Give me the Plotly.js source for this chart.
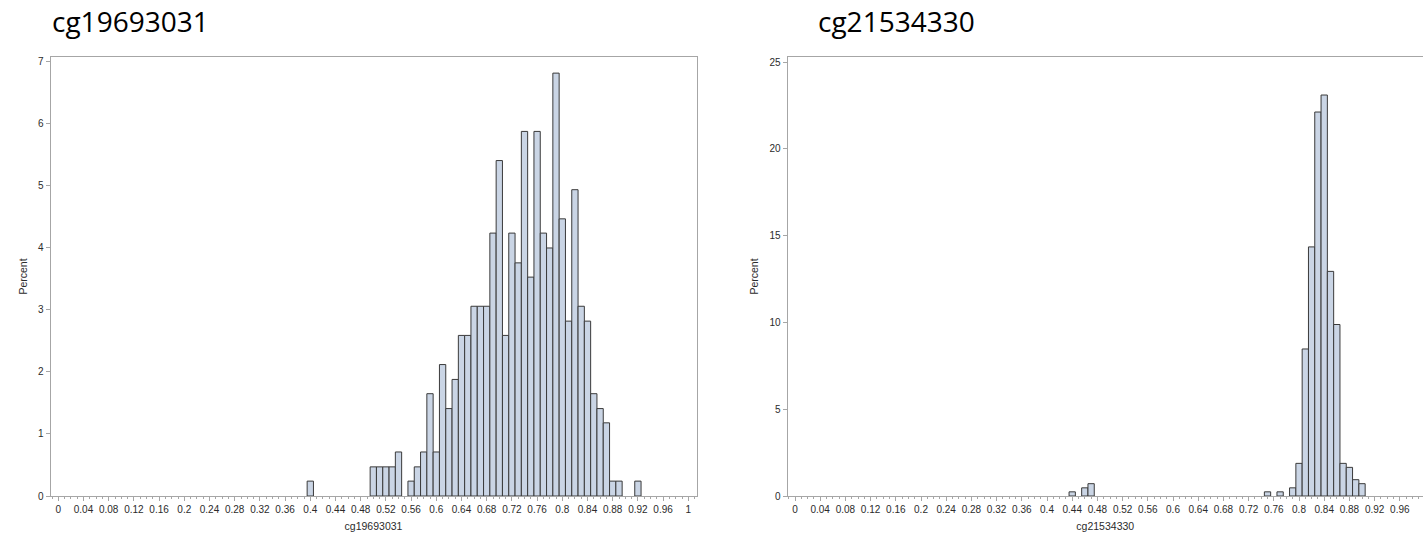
<!DOCTYPE html>
<html><head><meta charset="utf-8">
<script src="https://cdn.plot.ly/plotly-3.0.1.min.js"></script>
<style>html,body{margin:0;padding:0;background:#fff}#chart{width:1423px;height:540px}</style>
</head><body><div id="chart"></div><script>
// Left histogram: cg19693031 (bin centres, percent)
const binsA = [0.40,0.50,0.51,0.52,0.53,0.54,0.56,0.57,0.58,0.59,0.60,0.61,0.62,0.63,0.64,0.65,0.66,0.67,0.68,0.69,0.70,0.71,0.72,0.73,0.74,0.75,0.76,0.77,0.78,0.79,0.80,0.81,0.82,0.83,0.84,0.85,0.86,0.87,0.88,0.89,0.92];
const pctA  = [0.24,0.47,0.47,0.47,0.47,0.71,0.24,0.47,0.71,1.65,0.71,2.12,1.41,1.88,2.59,2.59,3.06,3.06,3.06,4.24,5.41,2.59,4.24,3.76,5.88,3.53,5.88,4.24,4.00,6.82,4.47,2.82,4.94,3.06,2.82,1.65,1.41,1.18,0.24,0.24,0.24];
// Right histogram: cg21534330
const binsB = [0.44,0.46,0.47,0.75,0.77,0.79,0.80,0.81,0.82,0.83,0.84,0.85,0.86,0.87,0.88,0.89,0.90];
const pctB  = [0.24,0.47,0.71,0.24,0.24,0.47,1.88,8.47,14.35,22.12,23.10,12.94,9.88,1.88,1.65,0.94,0.71];
const nameA = 'cg19693031';
const nameB = 'cg21534330';
const yLabel = 'Percent';
const binWidth = 0.01;

const W = 1423, H = 540;
const fill = '#cad5e5', edge = '#3a3a3a', frame = '#a6a6a6';
const tickFont = {family:'Liberation Sans, Arial, sans-serif', size:10, color:'#2b2b2b'};
const axTitleFont = {family:'Liberation Sans, Arial, sans-serif', size:10.5, color:'#2b2b2b'};

function bar(x, y, xa, ya){
  return {type:'bar', x:x, y:y, width:x.map(()=>binWidth), xaxis:xa, yaxis:ya,
    marker:{color:fill, line:{color:edge, width:1}}, hoverinfo:'x+y', showlegend:false};
}
function xax(dom, rng, title, mirror){
  return {domain:dom, range:rng, tick0:0, dtick:0.04, ticks:'outside', ticklen:4, tickcolor:frame,
    tickfont:tickFont, showgrid:false, zeroline:false, showline:true, linecolor:frame, linewidth:1,
    mirror:mirror, minor:{dtick:0.01, ticks:'outside', ticklen:2, tickcolor:frame, showgrid:false},
    title:{text:title, font:axTitleFont, standoff:8}, fixedrange:true};
}
function yax(dom, rng, dt, anchor, mirror){
  return {domain:dom, range:rng, dtick:dt, tick0:0, ticks:'outside', ticklen:4, tickcolor:frame,
    tickfont:tickFont, showgrid:false, zeroline:false, showline:true, linecolor:frame, linewidth:1,
    mirror:mirror, anchor:anchor, title:{text:yLabel, font:axTitleFont, standoff:8}, fixedrange:true};
}
const yDom = [(H-496)/H, (H-57)/H];
const layout = {
  width:W, height:H, margin:{l:0,r:0,t:0,b:0}, paper_bgcolor:'#fff', plot_bgcolor:'#fff',
  bargap:0, showlegend:false,
  xaxis: xax([50.5/W, 696.5/W], [-0.01238, 1.01302], nameA, true),
  yaxis: yax(yDom, [0, 7.08], 1, 'x', true),
  xaxis2: xax([787.5/W, 1], [-0.0119, 0.9968], nameB, true),
  yaxis2: yax(yDom, [0, 25.29], 5, 'x2', false),
  annotations:[
    {text:nameA, xref:'paper', yref:'paper', x:50/W, y:1-21/H, xanchor:'left', yanchor:'middle', showarrow:false,
     font:{family:'Open Sans, sans-serif', size:28, color:'#000'}},
    {text:nameB, xref:'paper', yref:'paper', x:816/W, y:1-21/H, xanchor:'left', yanchor:'middle', showarrow:false,
     font:{family:'Open Sans, sans-serif', size:28, color:'#000'}}
  ]
};
layout.xaxis2.anchor = 'y2';
layout.xaxis.anchor = 'y';
Plotly.newPlot('chart', [bar(binsA, pctA, 'x', 'y'), bar(binsB, pctB, 'x2', 'y2')], layout, {displayModeBar:false, staticPlot:true});
</script></body></html>
